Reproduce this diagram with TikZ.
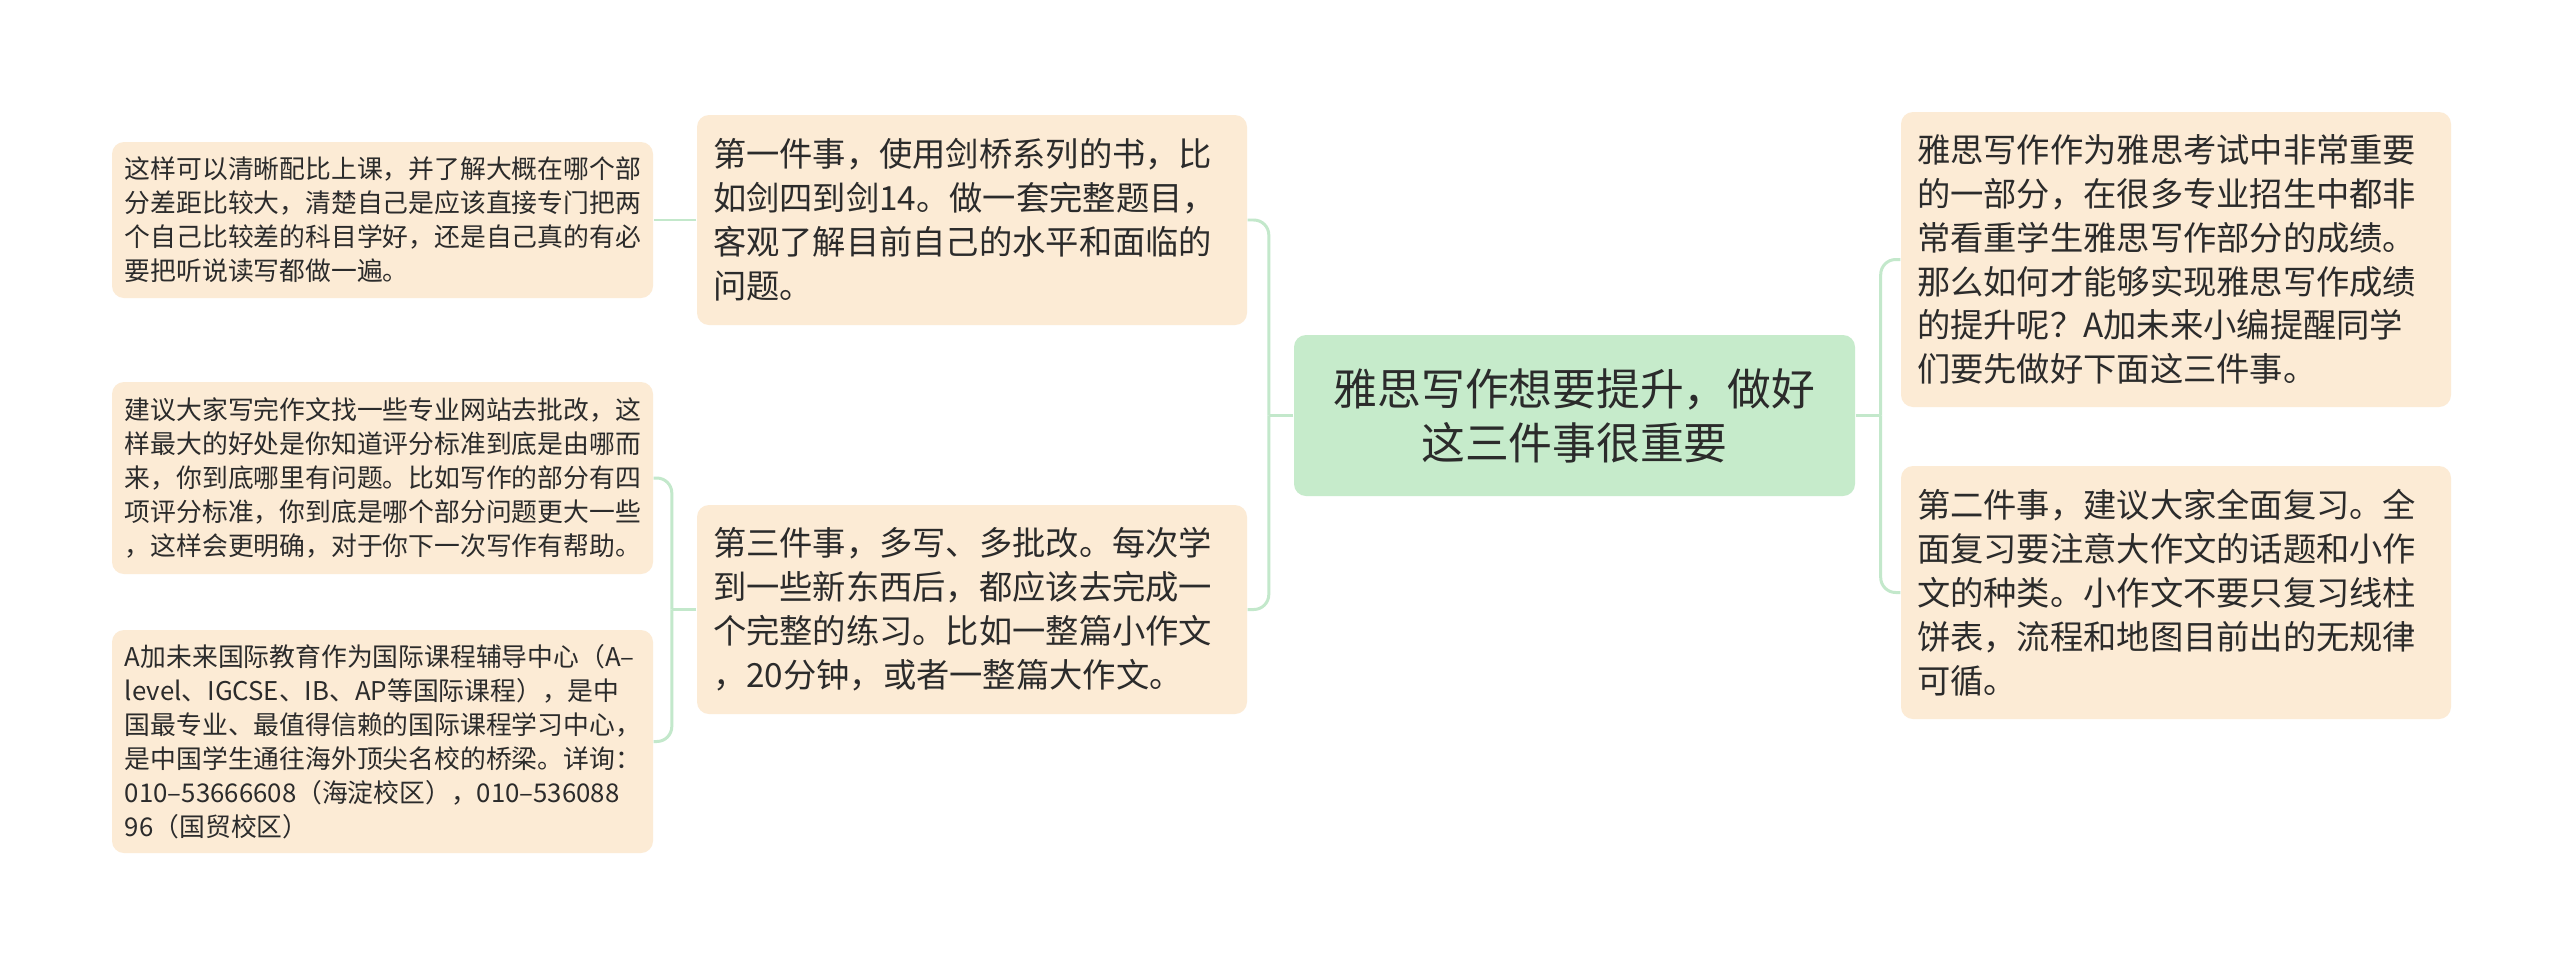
\documentclass[tikz,border=0pt]{standalone}
\usepackage{fontspec}
\newfontfamily\cjk{Noto Sans CJK SC}
\usepackage{tikz}
\definecolor{peach}{HTML}{FCEBD5}
\definecolor{mint}{HTML}{C6EBCB}
\definecolor{linkgreen}{HTML}{C3E8CB}
\definecolor{ink}{HTML}{2B2B2B}

\begin{document}
\begin{tikzpicture}[x=1cm, y=-1cm,
    box/.style={fill=peach, rounded corners=0.12cm, text=ink, align=left, inner ysep=0pt},
    leafbox/.style={box, inner xsep=0.13cm, text width=5.15cm, font={\cjk\fontsize{7.34pt}{9.67pt}\selectfont}},
    midbox/.style={box, inner xsep=0.16cm, text width=5.18cm, font={\cjk\fontsize{9.47pt}{12.5pt}\selectfont}},
    rootbox/.style={box, fill=mint, align=center, inner xsep=0.15cm, text width=5.31cm, font={\cjk\fontsize{12.46pt}{15.4pt}\selectfont}},
    link/.style={draw=linkgreen, line width=0.85pt},
    elbow/.style={link, rounded corners=0.15cm}]
        \fill[white] (0,0) rectangle (25.6,9.61);
        \useasboundingbox (0,0) rectangle (25.6,9.61);

        \node[rootbox, minimum height=1.61cm] (root) at (15.745,4.155) {雅思写作想要提升，做好\\这三件事很重要};

        \node[midbox, minimum height=2.10cm] (first) at (9.72,2.20) {第一件事，使用剑桥系列的书，比\\如剑四到剑14。做一套完整题目，\\客观了解目前自己的水平和面临的\\问题。};
        \node[midbox, minimum height=2.09cm] (third) at (9.72,6.095) {第三件事，多写、多批改。每次学\\到一些新东西后，都应该去完成一\\个完整的练习。比如一整篇小作文\\，20分钟，或者一整篇大作文。};

        \node[midbox, minimum height=2.95cm] (intro) at (21.76,2.595) {雅思写作作为雅思考试中非常重要\\的一部分，在很多专业招生中都非\\常看重学生雅思写作部分的成绩。\\那么如何才能够实现雅思写作成绩\\的提升呢？A加未来小编提醒同学\\们要先做好下面这三件事。};
        \node[midbox, minimum height=2.53cm] (second) at (21.76,5.925) {第二件事，建议大家全面复习。全\\面复习要注意大作文的话题和小作\\文的种类。小作文不要只复习线柱\\饼表，流程和地图目前出的无规律\\可循。};

        \node[leafbox, minimum height=1.56cm] (plan) at (3.825,2.20) {这样可以清晰配比上课，并了解大概在哪个部\\分差距比较大，清楚自己是应该直接专门把两\\个自己比较差的科目学好，还是自己真的有必\\要把听说读写都做一遍。};
        \node[leafbox, minimum height=1.92cm] (review) at (3.825,4.78) {建议大家写完作文找一些专业网站去批改，这\\样最大的好处是你知道评分标准到底是由哪而\\来，你到底哪里有问题。比如写作的部分有四\\项评分标准，你到底是哪个部分问题更大一些\\，这样会更明确，对于你下一次写作有帮助。};
        \node[leafbox, minimum height=2.23cm] (school) at (3.825,7.415) {A加未来国际教育作为国际课程辅导中心（A–\\level、IGCSE、IB、AP等国际课程），是中\\国最专业、最值得信赖的国际课程学习中心，\\是中国学生通往海外顶尖名校的桥梁。详询：\\010–53666608（海淀校区），010–536088\\96（国贸校区）};

        \draw[link] (root.west) -- ++(-0.245,0) coordinate (lfork);
        \draw[elbow] (lfork) |- (first.east);
        \draw[elbow] (lfork) |- (third.east);

        \draw[link] (root.east) -- ++(0.25,0) coordinate (rfork);
        \draw[elbow] (rfork) |- (intro.west);
        \draw[elbow] (rfork) |- (second.west);

        \draw[link] (first.west) -- (plan.east);
        \draw[link] (third.west) -- ++(-0.245,0) coordinate (tfork);
        \draw[elbow] (tfork) |- (review.east);
        \draw[elbow] (tfork) |- (school.east);
\end{tikzpicture}
\end{document}
